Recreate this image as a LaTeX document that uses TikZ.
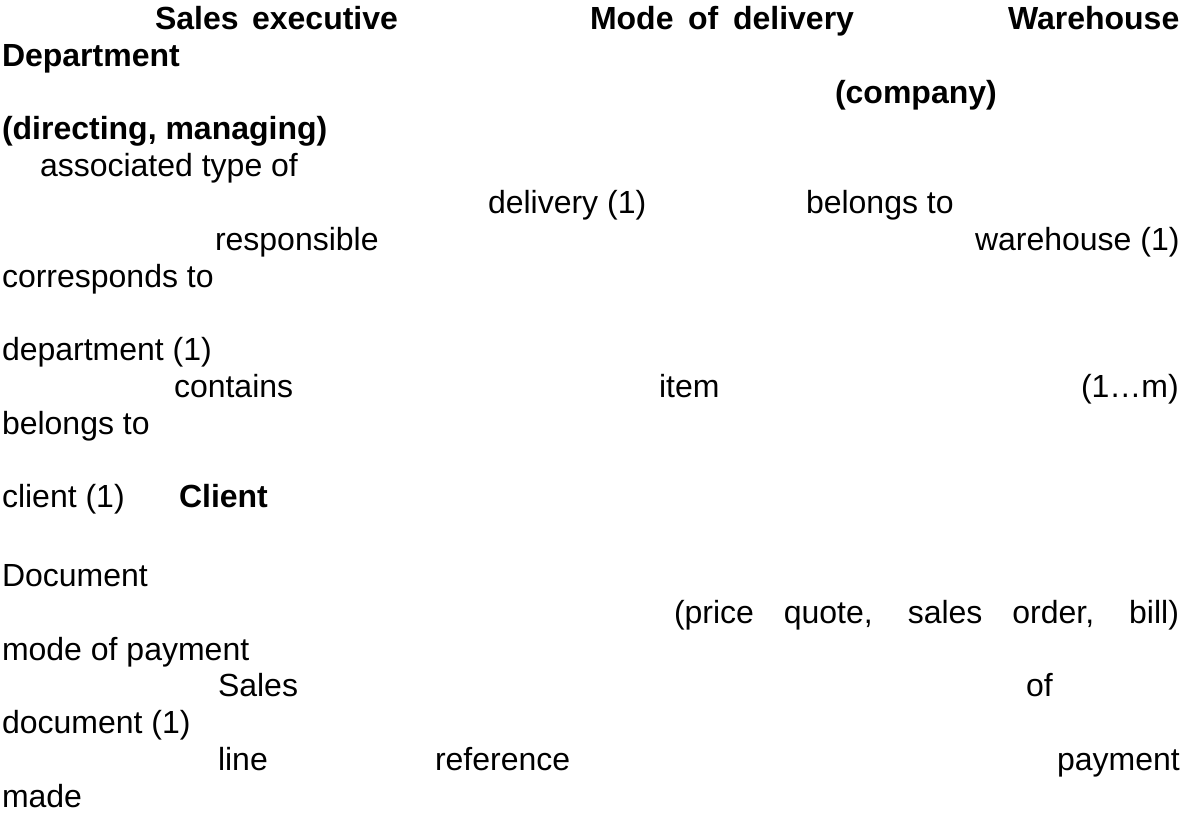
\documentclass[tikz,border=0pt]{standalone}
\usepackage{fontspec}
\setmainfont{Liberation Sans}
\begin{document}
\begin{tikzpicture}[x=1pt,y=-1pt,
  lbl/.style={anchor=base west,inner sep=0pt,outer sep=0pt,font=\fontsize{32}{37}\selectfont},
  head/.style={lbl,font=\fontsize{32}{37}\selectfont\bfseries}]
\useasboundingbox (0,0) rectangle (1181,814);
% baselines of the text rows: upper block and lower block
\def\row#1{\fpeval{29.5+36.8*#1}}
\def\lrow#1{\fpeval{36.3+36.7*#1}}
% headings
\node[head] (salesexec) at (155,\row{0}) {\makebox[243pt][s]{Sales executive}};
\node[head] (modedel) at (590,\row{0}) {\makebox[264pt][s]{Mode of delivery}};
\node[head] (warehouse) at (1008,\row{0}) {Warehouse};
\node[head] (dept) at (2,\row{1}) {Department};
\node[head] (company) at (835,\row{2}) {(company)};
\node[head] (directing) at (2,\row{3}) {(directing, managing)};
% upper relations
\node[lbl] (assoc) at (40,\row{4}) {associated type of};
\node[lbl] (delivone) at (488,\row{5}) {delivery (1)};
\node[lbl] (belongsa) at (806,\row{5}) {belongs to};
\node[lbl] (resp) at (215,\row{6}) {responsible};
\node[lbl] (whone) at (975,\row{6}) {warehouse (1)};
\node[lbl] (corr) at (2,\row{7}) {corresponds to};
\node[lbl] (deptone) at (2,\row{9}) {department (1)};
\node[lbl] (contains) at (174,\row{10}) {contains};
\node[lbl] (item) at (659,\row{10}) {item};
\node[lbl] (onem) at (1081,\row{10}) {(1…m)};
\node[lbl] (belongsb) at (2,\row{11}) {belongs to};
\node[lbl] (clientone) at (2,\row{13}) {client (1)};
\node[head] (client) at (179,\row{13}) {Client};
% lower part
\node[lbl] (doc) at (2,\lrow{15}) {Document};
\node[lbl] (kinds) at (674,\lrow{16}) {\makebox[505pt][s]{(price quote, sales order, bill)}};
\node[lbl] (modepay) at (2,\lrow{17}) {mode of payment};
\node[lbl] (sales) at (218,\lrow{18}) {Sales};
\node[lbl] (of) at (1026,\lrow{18}) {of};
\node[lbl] (docone) at (2,\lrow{19}) {document (1)};
\node[lbl] (line) at (218,\lrow{20}) {line};
\node[lbl] (ref) at (435,\lrow{20}) {reference};
\node[lbl] (payment) at (1057,\lrow{20}) {payment};
\node[lbl] (made) at (2,\lrow{21}) {made};
\end{tikzpicture}
\end{document}
